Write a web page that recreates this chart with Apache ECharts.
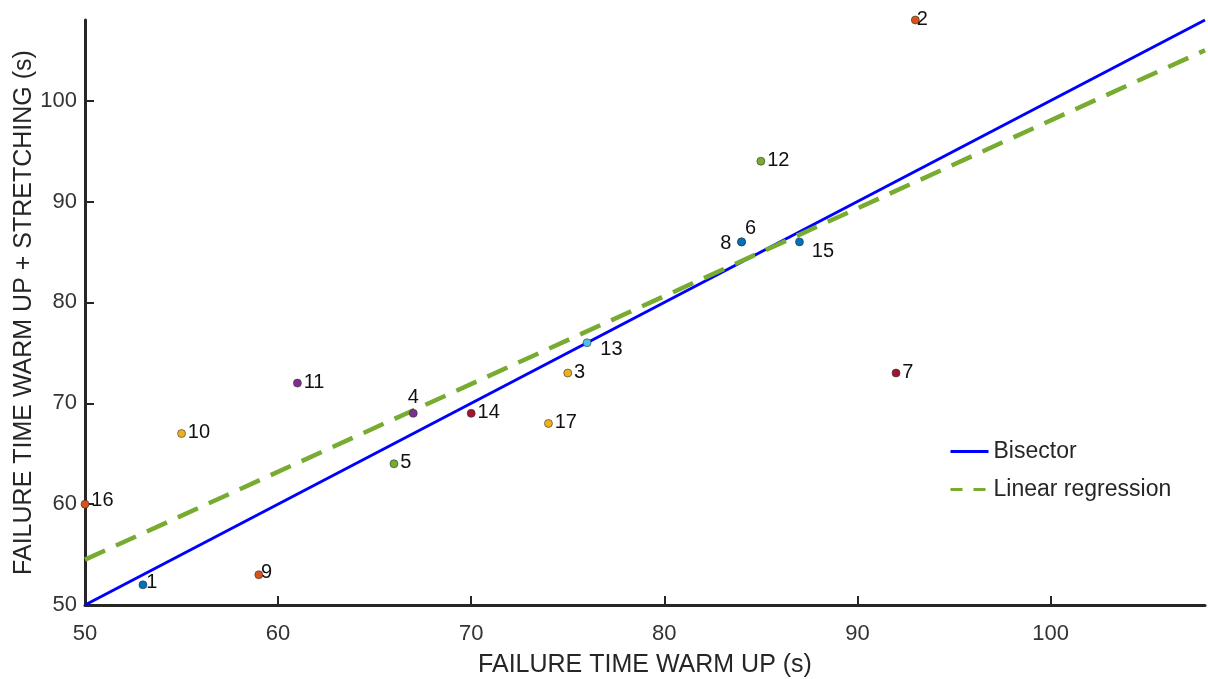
<!DOCTYPE html>
<html><head><meta charset="utf-8">
<script src="https://cdn.jsdelivr.net/npm/echarts@6/dist/echarts.min.js"></script>
<style>html,body{margin:0;padding:0;background:#fff}#c{width:1208px;height:679px}</style>
</head><body><div id="c"></div>
<script>
// Data
const ids = ['1','2','3','4','5','6','7','8','9','10','11','12','13','14','15','16','17'];
const warmUp = [53, 93, 75, 67, 66, 84, 92, 84, 59, 55, 61, 85, 76, 70, 87, 50, 74];
const warmUpStretching = [52, 108, 73, 69, 64, 86, 73, 86, 53, 67, 72, 94, 76, 69, 86, 60, 68];
const bisector = [[50, 50], [108, 108]];
const regression = [[50, 54.5], [108, 105]];
const xTicks = [50, 60, 70, 80, 90, 100];
const yTicks = [50, 60, 70, 80, 90, 100];

// Styles
const palette = ['#0072BD','#D95319','#EDB120','#7E2F8E','#77AC30','#4DBEEE','#A2142F'];
const labelPlacement = {
  '2': {position: 'right', offset: [-5, -1]},
  '4': {position: 'top', offset: [0, 0]},
  '6': {position: 'top', offset: [9, 3]},
  '8': {position: 'left', offset: [-4, 2]},
  '13': {position: 'right', offset: [7, 7]},
  '15': {position: 'right', offset: [6, 10]},
  '16': {position: 'right', offset: [0, -4]},
  '1': {position: 'right', offset: [-3, -2]},
  '9': {position: 'right', offset: [-4, -2]}
};
const font = 'Liberation Sans, Arial, sans-serif';

const points = ids.map((id, i) => {
  const p = labelPlacement[id] || {position: 'right', offset: [0, -1]};
  return {
    name: id,
    value: [warmUp[i], warmUpStretching[i]],
    itemStyle: {color: palette[i % palette.length]},
    label: {position: p.position, offset: p.offset}
  };
});

const chart = echarts.init(document.getElementById('c'));
chart.setOption({
  animation: false,
  grid: {left: 85, right: 3, top: 20, bottom: 74, containLabel: false, outerBoundsMode: 'none'},
  legend: {
    left: 944, top: 435, orient: 'vertical', itemGap: 15,
    itemWidth: 38, itemHeight: 12,
    itemStyle: {opacity: 0},
    textStyle: {fontSize: 23, color: '#262626', fontFamily: font},
    data: [
      {name: 'Bisector', lineStyle: {width: 3}},
      {name: 'Linear regression', lineStyle: {width: 3, type: [12, 11]}}
    ]
  },
  xAxis: {
    type: 'value', min: 50, max: 108, interval: 10,
    name: 'FAILURE TIME WARM UP (s)', nameLocation: 'middle', nameGap: 48,
    nameTextStyle: {fontSize: 25, color: '#262626', fontFamily: font},
    axisLine: {show: true, lineStyle: {color: '#262626', width: 3}},
    axisTick: {show: true, inside: true, length: 9, lineStyle: {color: '#262626', width: 2}},
    axisLabel: {fontSize: 22, color: '#333', fontFamily: font, margin: 18, showMaxLabel: false,
      formatter: v => xTicks.includes(v) ? String(v) : ''},
    splitLine: {show: false}
  },
  yAxis: {
    type: 'value', min: 50, max: 108, interval: 10,
    name: 'FAILURE TIME WARM UP + STRETCHING (s)', nameLocation: 'middle', nameGap: 48,
    nameMoveOverlap: false,
    nameTextStyle: {fontSize: 25, color: '#262626', fontFamily: font},
    axisLine: {show: true, lineStyle: {color: '#262626', width: 3}},
    axisTick: {show: true, inside: true, length: 9, lineStyle: {color: '#262626', width: 2}},
    axisLabel: {fontSize: 22, color: '#333', fontFamily: font, margin: 8, showMaxLabel: false,
      formatter: v => yTicks.includes(v) ? String(v) : ''},
    splitLine: {show: false}
  },
  series: [
    {
      name: 'Bisector', type: 'line', data: bisector, symbol: 'none',
      lineStyle: {color: '#0000FF', width: 3}, itemStyle: {color: '#0000FF'}, z: 2
    },
    {
      name: 'Linear regression', type: 'line', data: regression, symbol: 'none',
      lineStyle: {color: '#77AC30', width: 4.5, type: [22, 12]}, itemStyle: {color: '#77AC30'}, z: 2
    },
    {
      name: 'points', type: 'scatter', data: points, symbolSize: 8,
      itemStyle: {borderColor: '#333', borderWidth: 0.6, opacity: 1},
      label: {show: true, formatter: '{b}', fontSize: 20, color: '#111', fontFamily: font, distance: 2},
      z: 3
    }
  ]
});
</script></body></html>
